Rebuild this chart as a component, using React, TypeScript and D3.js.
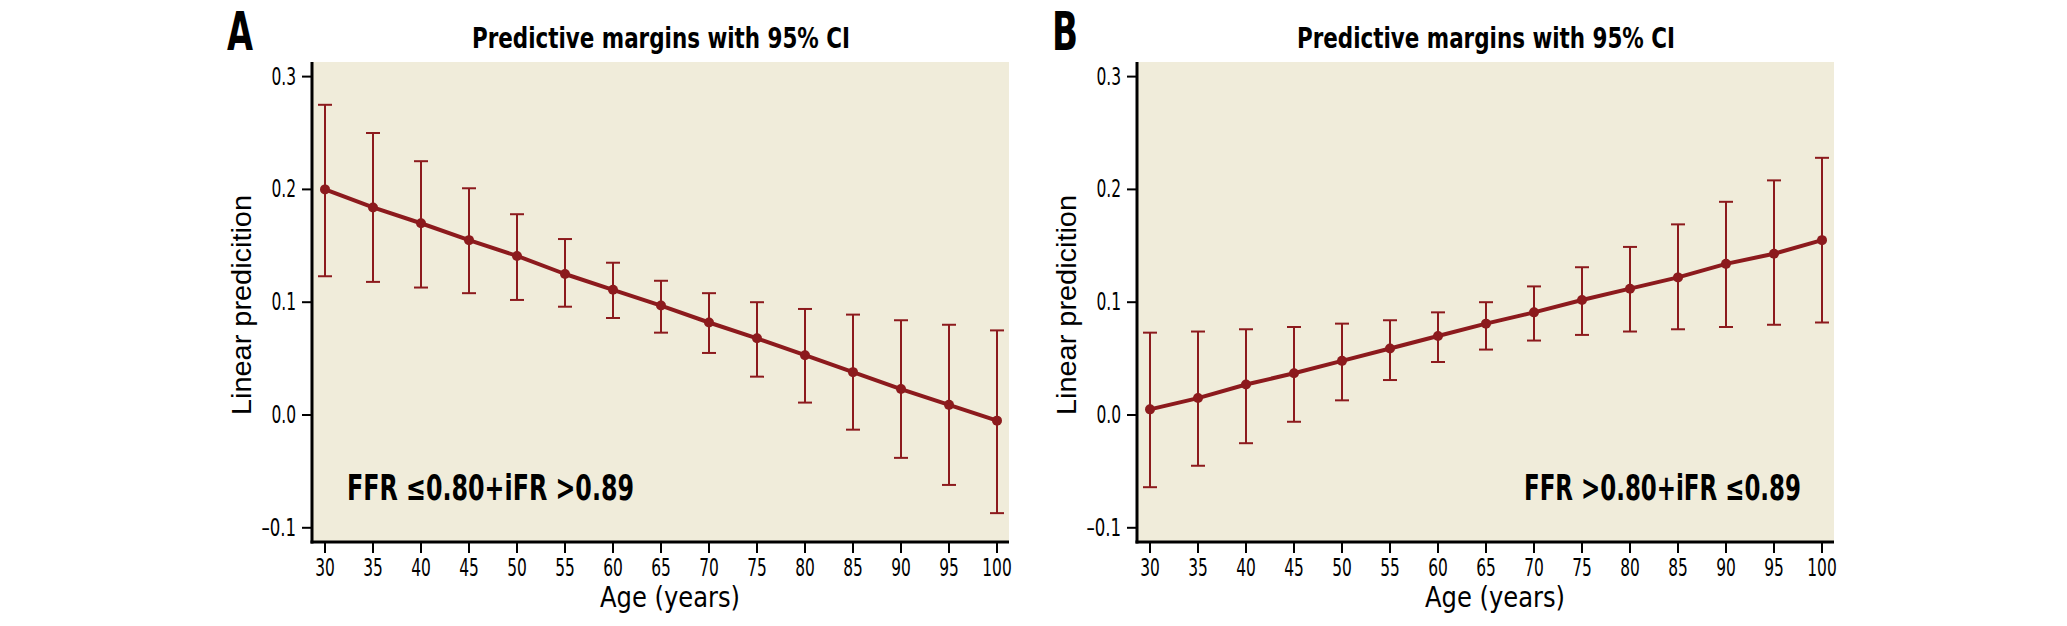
import * as d3 from "d3";

const ages = [30, 35, 40, 45, 50, 55, 60, 65, 70, 75, 80, 85, 90, 95, 100];

const marginA = [0.2, 0.184, 0.17, 0.155, 0.141, 0.125, 0.111, 0.097, 0.082, 0.068, 0.053, 0.038, 0.023, 0.009, -0.005];
const upperA = [0.275, 0.25, 0.225, 0.201, 0.178, 0.156, 0.135, 0.119, 0.108, 0.1, 0.094, 0.089, 0.084, 0.08, 0.075];
const lowerA = [0.123, 0.118, 0.113, 0.108, 0.102, 0.096, 0.086, 0.073, 0.055, 0.034, 0.011, -0.013, -0.038, -0.062, -0.087];

const marginB = [0.005, 0.015, 0.027, 0.037, 0.048, 0.059, 0.07, 0.081, 0.091, 0.102, 0.112, 0.122, 0.134, 0.143, 0.155];
const upperB = [0.073, 0.074, 0.076, 0.078, 0.081, 0.084, 0.091, 0.1, 0.114, 0.131, 0.149, 0.169, 0.189, 0.208, 0.228];
const lowerB = [-0.064, -0.045, -0.025, -0.006, 0.013, 0.031, 0.047, 0.058, 0.066, 0.071, 0.074, 0.076, 0.078, 0.08, 0.082];

const yTicks = [-0.1, 0, 0.1, 0.2, 0.3];

const WIDTH = 2067;
const HEIGHT = 626;
const PLOT = { left: 312, right: 1009, top: 62, bottom: 542 };
const PANEL_SHIFT = 825;

const BG = "#f0ecda";
const RED = "#8c1a1d";
const COND = "'Liberation Sans Narrow', 'DejaVu Sans Condensed', 'Roboto Condensed', 'Arial Narrow', sans-serif";
const WIDE = "'Liberation Sans', Arial, sans-serif";

type PanelProps = {
  letter: string;
  offset: number;
  margin: number[];
  upper: number[];
  lower: number[];
  note: string;
  noteAnchor: "start" | "end";
  noteX: number;
  noteWidth: number;
};

function fmt(v: number): string {
  return v < 0 ? `\u2013${Math.abs(v).toFixed(1)}` : v.toFixed(1);
}

// approximate width of a condensed tick label in the reference
function labelWidth(s: string): number {
  let w = 0;
  for (const c of s) w += c === "." ? 5 : c === "\u2013" ? 10 : 9.8;
  return w;
}

function Panel({ letter, offset, margin, upper, lower, note, noteAnchor, noteX, noteWidth }: PanelProps) {
  const x = d3.scaleLinear().domain([30, 100]).range([PLOT.left + 13 + offset, PLOT.left + 685 + offset]);
  const y = d3.scaleLinear().domain([0, 0.3]).range([415, 76.6]);
  const points = ages.map((age, i) => ({ age, v: margin[i] }));
  const line = d3.line<{ age: number; v: number }>().x((d) => x(d.age)).y((d) => y(d.v));
  const left = PLOT.left + offset;
  const right = PLOT.right + offset;

  return (
    <g>
      <rect x={left} y={PLOT.top} width={right - left} height={PLOT.bottom - PLOT.top} fill={BG} />
      <text x={left - 85} y={50} fontFamily={COND} fontWeight="700" fontSize="53" textLength="26" lengthAdjust="spacingAndGlyphs">
        {letter}
      </text>
      <text x={472 + offset} y={48} fontFamily={COND} fontWeight="700" fontSize="29" textLength="378" lengthAdjust="spacingAndGlyphs">
        Predictive margins with 95% CI
      </text>

      {ages.map((age, i) => (
        <g key={age} stroke={RED} strokeWidth="2">
          <line x1={x(age)} x2={x(age)} y1={y(upper[i])} y2={y(lower[i])} />
          <line x1={x(age) - 7} x2={x(age) + 7} y1={y(upper[i])} y2={y(upper[i])} />
          <line x1={x(age) - 7} x2={x(age) + 7} y1={y(lower[i])} y2={y(lower[i])} />
        </g>
      ))}
      <path d={line(points) ?? undefined} fill="none" stroke={RED} strokeWidth="4" strokeLinejoin="round" />
      {points.map((p) => (
        <circle key={p.age} cx={x(p.age)} cy={y(p.v)} r="5" fill={RED} />
      ))}

      <line x1={left} x2={left} y1={PLOT.top} y2={PLOT.bottom + 1.5} stroke="#000" strokeWidth="3" />
      <line x1={left - 1.5} x2={right} y1={PLOT.bottom} y2={PLOT.bottom} stroke="#000" strokeWidth="3" />

      {yTicks.map((t) => (
        <g key={t}>
          <line x1={left - 10} x2={left} y1={y(t)} y2={y(t)} stroke="#000" strokeWidth="2" />
          <text
            x={left - 16}
            y={y(t) + 8}
            textAnchor="end"
            fontFamily={COND}
            fontSize="24"
            textLength={labelWidth(fmt(t))}
            lengthAdjust="spacingAndGlyphs"
          >
            {fmt(t)}
          </text>
        </g>
      ))}
      {ages.map((age) => (
        <g key={age}>
          <line x1={x(age)} x2={x(age)} y1={PLOT.bottom} y2={PLOT.bottom + 11} stroke="#000" strokeWidth="2" />
          <text
            x={x(age)}
            y={576}
            textAnchor="middle"
            fontFamily={COND}
            fontSize="24"
            textLength={labelWidth(String(age))}
            lengthAdjust="spacingAndGlyphs"
          >
            {age}
          </text>
        </g>
      ))}

      <text x={600 + offset} y={607} fontFamily={COND} fontSize="28" textLength="140" lengthAdjust="spacingAndGlyphs">
        Age (years)
      </text>
      <text
        transform={`translate(${251 + offset} 305) rotate(-90)`}
        textAnchor="middle"
        fontFamily={WIDE}
        fontSize="27"
        textLength="220"
        lengthAdjust="spacingAndGlyphs"
      >
        Linear predicition
      </text>

      <text
        x={noteX + offset}
        y={500}
        textAnchor={noteAnchor}
        fontFamily={COND}
        fontWeight="700"
        fontSize="35"
        textLength={noteWidth}
        lengthAdjust="spacingAndGlyphs"
      >
        {note}
      </text>
    </g>
  );
}

export default function App() {
  return (
    <div style={{ position: "absolute", left: 0, top: 0 }}>
      <svg width={WIDTH} height={HEIGHT} viewBox={`0 0 ${WIDTH} ${HEIGHT}`} style={{ display: "block", background: "#fff" }}>
        <Panel
          letter="A"
          offset={0}
          margin={marginA}
          upper={upperA}
          lower={lowerA}
          note="FFR ≤0.80+iFR >0.89"
          noteAnchor="start"
          noteX={347}
          noteWidth={287}
        />
        <Panel
          letter="B"
          offset={PANEL_SHIFT}
          margin={marginB}
          upper={upperB}
          lower={lowerB}
          note="FFR >0.80+iFR ≤0.89"
          noteAnchor="end"
          noteX={976}
          noteWidth={277}
        />
      </svg>
    </div>
  );
}
